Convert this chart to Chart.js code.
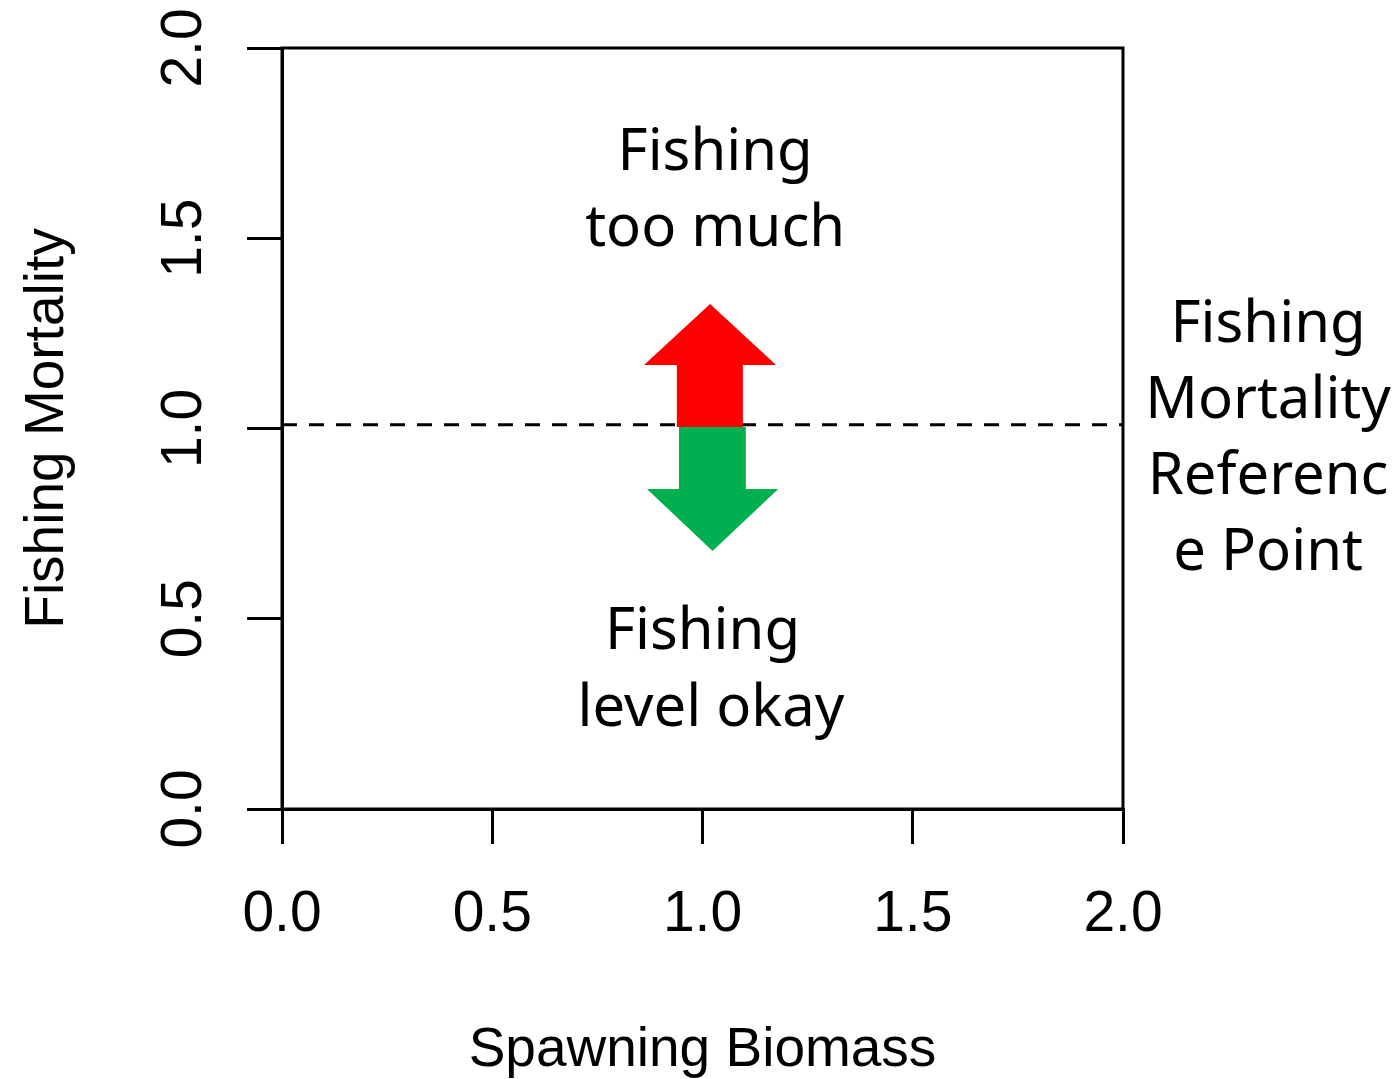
<!DOCTYPE html>
<html><head><meta charset="utf-8">
<script src="https://cdn.jsdelivr.net/npm/chart.js@4/dist/chart.umd.min.js"></script>
<style>html,body{margin:0;padding:0;background:#fff;} canvas{display:block;}</style>
</head><body>
<canvas id="c" width="1399" height="1079"></canvas>
<script>
// ---- data ----
const xTickValues = [0, 0.5, 1.0, 1.5, 2.0];
const xTickLabels = ['0.0', '0.5', '1.0', '1.5', '2.0'];
const yTickValues = [0, 0.5, 1.0, 1.5, 2.0];
const yTickLabels = ['0.0', '0.5', '1.0', '1.5', '2.0'];
const xAxisTitle = 'Spawning Biomass';
const yAxisTitle = 'Fishing Mortality';
const refLineX = [0, 2];
const refLineY = [1.01, 1.01];
const upArrowX = [0.939, 0.939, 0.861, 1.018, 1.175, 1.096, 1.096, 0.939];
const upArrowY = [1.004, 1.167, 1.167, 1.327, 1.167, 1.167, 1.004, 1.004];
const downArrowX = [0.944, 1.103, 1.103, 1.180, 1.024, 0.868, 0.944, 0.944];
const downArrowY = [1.004, 1.004, 0.841, 0.841, 0.678, 0.841, 0.841, 1.004];
const upperText = ['Fishing', 'too much'];
const lowerText = ['Fishing', 'level okay'];
const refText = ['Fishing', 'Mortality', 'Referenc', 'e Point'];

const pts = (xs, ys) => xs.map((x, i) => ({ x: x, y: ys[i] }));

const boxPlugin = {
  id: 'box',
  afterDraw(chart) {
    const { ctx, chartArea: a } = chart;
    ctx.save();
    ctx.strokeStyle = '#000';
    ctx.lineWidth = 3;
    ctx.strokeRect(a.left, a.top, a.right - a.left, a.bottom - a.top);
    ctx.restore();
  }
};

const textPlugin = {
  id: 'notes',
  afterDraw(chart, args, opts) {
    const { ctx, scales } = chart;
    ctx.save();
    ctx.fillStyle = '#000';
    ctx.textAlign = 'center';
    ctx.textBaseline = 'middle';
    ctx.font = opts.font;
    opts.blocks.forEach(b => {
      b.lines.forEach((t, i) => {
        ctx.fillText(t, scales.x.getPixelForValue(b.x[i]), scales.y.getPixelForValue(b.y[i]));
      });
    });
    ctx.restore();
  }
};

function fixPad(s) { s.paddingTop = 0; s.paddingBottom = 0; s.paddingLeft = 0; s.paddingRight = 0; }

new Chart(document.getElementById('c'), {
  type: 'line',
  data: {
    datasets: [
      { data: pts(upArrowX, upArrowY), fill: 'shape', backgroundColor: '#FF0000', borderColor: '#FF0000', borderWidth: 0, pointRadius: 0, tension: 0 },
      { data: pts(downArrowX, downArrowY), fill: 'shape', backgroundColor: '#00B050', borderColor: '#00B050', borderWidth: 0, pointRadius: 0, tension: 0 },
      { data: pts(refLineX, refLineY), fill: false, borderColor: '#000', borderWidth: 3, borderDash: [15, 12], pointRadius: 0 }
    ]
  },
  options: {
    responsive: false,
    animation: false,
    devicePixelRatio: 1,
    layout: { padding: { left: 0, top: 48, right: 276, bottom: 0 } },
    plugins: {
      legend: { display: false },
      tooltip: { enabled: false },
      notes: {
        font: '58px "Noto Sans"',
        blocks: [
          { lines: upperText, x: [1.03, 1.03], y: [1.723, 1.524] },
          { lines: lowerText, x: [1.00, 1.02], y: [0.463, 0.261] },
          { lines: refText, x: [2.345, 2.345, 2.345, 2.345], y: [1.272, 1.072, 0.872, 0.672] }
        ]
      }
    },
    scales: {
      x: {
        type: 'linear', min: 0, max: 2,
        afterBuildTicks: s => { s.ticks = xTickValues.map(v => ({ value: v })); },
        ticks: {
          callback: v => xTickLabels[xTickValues.indexOf(v)],
          font: { family: 'Liberation Sans', size: 57 }, color: '#000',
          padding: 37, maxRotation: 0, minRotation: 0, autoSkip: false
        },
        grid: { drawOnChartArea: false, drawTicks: true, tickLength: 35, color: '#000', lineWidth: 3 },
        border: { display: true, color: '#000', width: 3 },
        title: { display: true, text: xAxisTitle, color: '#000', font: { family: 'Liberation Sans', size: 55, lineHeight: 1 }, padding: { top: 0, bottom: 1 } },
        afterFit: s => { s.height = 270; fixPad(s); }
      },
      y: {
        type: 'linear', min: 0, max: 2,
        afterBuildTicks: s => { s.ticks = yTickValues.map(v => ({ value: v })); },
        ticks: {
          callback: v => yTickLabels[yTickValues.indexOf(v)],
          font: { family: 'Liberation Sans', size: 57 }, color: '#000',
          padding: 22, minRotation: 90, maxRotation: 90, crossAlign: 'center', autoSkip: false
        },
        grid: { drawOnChartArea: false, drawTicks: true, tickLength: 35, color: '#000', lineWidth: 3 },
        border: { display: true, color: '#000', width: 3 },
        title: { display: true, text: yAxisTitle, color: '#000', font: { family: 'Liberation Sans', size: 55, lineHeight: 1 }, padding: { top: 20, bottom: 0 } },
        afterFit: s => { s.width = 282; fixPad(s); }
      }
    }
  },
  plugins: [boxPlugin, textPlugin]
});
</script>
</body></html>
